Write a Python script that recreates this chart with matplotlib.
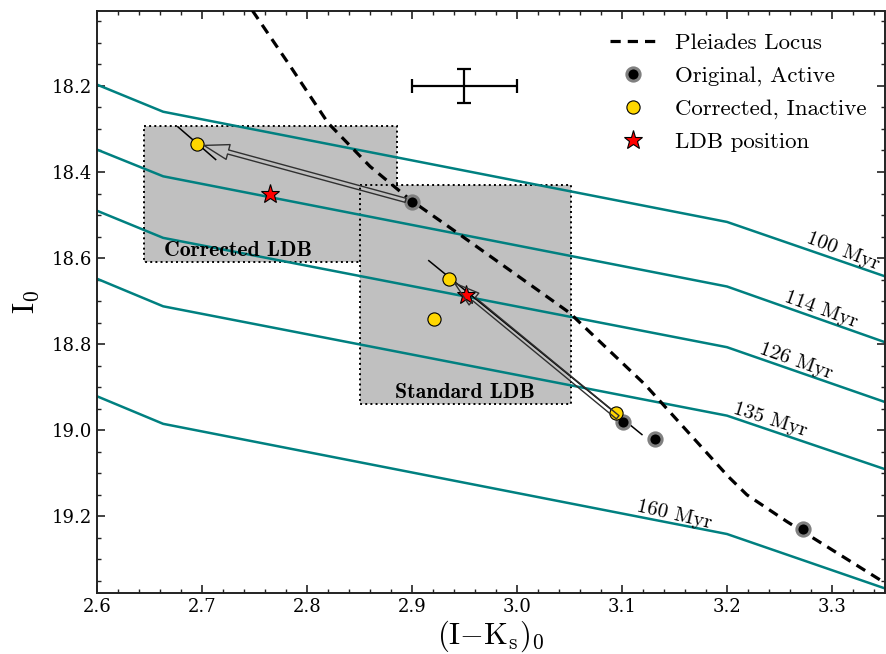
import matplotlib
matplotlib.use("Agg")
import matplotlib.pyplot as plt
from matplotlib.patches import Rectangle, FancyArrowPatch
from matplotlib.ticker import MultipleLocator
import numpy as np

plt.rcParams['font.family'] = 'DejaVu Serif'
plt.rcParams['mathtext.fontset'] = 'cm'

# ---------------- data ----------------
iso_x = [2.6, 2.663, 3.2, 3.35]
iso_100 = [18.197, 18.260, 18.516, 18.642]
iso_114 = [18.348, 18.410, 18.666, 18.795]
iso_126 = [18.490, 18.553, 18.807, 18.934]
iso_135 = [18.648, 18.712, 18.966, 19.090]
iso_160 = [18.921, 18.985, 19.241, 19.367]
iso_labels = ["100 Myr", "114 Myr", "126 Myr", "135 Myr", "160 Myr"]
iso_label_x = [3.310, 3.290, 3.266, 3.241, 3.150]
iso_label_y = [18.585, 18.720, 18.840, 18.977, 19.197]
iso_label_rot = [-21, -20, -19.5, -17.5, -13]

pl_x = [2.748, 2.784, 2.820, 2.860, 2.898, 2.943, 3.019, 3.050, 3.122,
        3.201, 3.219, 3.257, 3.352]
pl_y = [18.025, 18.154, 18.286, 18.387, 18.464, 18.541, 18.673, 18.727,
        18.894, 19.107, 19.150, 19.212, 19.357]

orig_x = [2.9003, 3.101, 3.131, 3.272]
orig_y = [18.470, 18.980, 19.020, 19.229]
corr_x = [2.6955, 2.9355, 2.9213, 3.094]
corr_y = [18.334, 18.648, 18.741, 18.959]
ldb_x = [2.765, 2.951]
ldb_y = [18.451, 18.685]

arrow_from_x = [2.9003, 3.101]
arrow_from_y = [18.470, 18.980]
arrow_to_x = [2.6955, 2.9355]
arrow_to_y = [18.334, 18.648]

seg1_x = [2.677, 2.713]
seg1_y = [18.295, 18.371]
seg2_x = [2.916, 3.119]
seg2_y = [18.606, 19.010]

box_corr = [2.645, 2.886, 18.294, 18.608]
box_std = [2.8505, 3.051, 18.431, 18.939]

err_x, err_y = 2.95, 18.2
err_dx, err_dy = 0.05, 0.04

# ---------------- figure ----------------
fig = plt.figure(figsize=(8.86, 6.54), dpi=100)
ax = fig.add_axes([97/886, 61/654, 787.5/886, 582/654])

for (x0, x1, y0, y1) in [box_corr, box_std]:
    ax.add_patch(Rectangle((x0, y0), x1 - x0, y1 - y0, facecolor='#c0c0c0',
                           edgecolor='black', linestyle=':', linewidth=1.4,
                           zorder=1))

teal = '#008080'
for ys in [iso_100, iso_114, iso_126, iso_135, iso_160]:
    ax.plot(iso_x, ys, color=teal, lw=1.8, zorder=2)
for t, x, y, r in zip(iso_labels, iso_label_x, iso_label_y, iso_label_rot):
    ax.text(x, y, t, fontsize=15, family='cmr10', rotation=r,
            rotation_mode='anchor', ha='center', va='center', zorder=3)

ax.plot(pl_x, pl_y, color='black', lw=2.3, linestyle=(0, (3.2, 2.2)),
        zorder=3, label='Pleiades Locus')

ax.text(2.664, 18.582, 'Corrected LDB', family='cmb10', fontsize=15.7,
        ha='left', va='center', zorder=3)
ax.text(2.884, 18.913, 'Standard LDB', family='cmb10', fontsize=15.7,
        ha='left', va='center', zorder=3)

ax.plot(seg1_x, seg1_y, color='black', lw=1.1, zorder=4)
ax.plot(seg2_x, seg2_y, color='black', lw=1.1, zorder=4)

ax.errorbar([err_x], [err_y], xerr=[err_dx], yerr=[err_dy], fmt='none',
            ecolor='black', elinewidth=1.6, capsize=5, capthick=1.6, zorder=4)

ax.plot(orig_x, orig_y, 'o', color='black', markersize=9.5, mec='#808080',
        mew=2.2, linestyle='none', zorder=5, label='Original, Active')
ax.plot(corr_x, corr_y, 'o', color='#FFD700', markersize=9.5, mec='black',
        mew=0.8, linestyle='none', zorder=5, label='Corrected, Inactive')
ax.plot(ldb_x, ldb_y, '*', color='red', markersize=14, mec='black',
        mew=0.8, linestyle='none', zorder=5, label='LDB position')

for xa, ya, xb, yb in zip(arrow_from_x, arrow_from_y, arrow_to_x, arrow_to_y):
    arr = FancyArrowPatch((xa, ya), (xb, yb),
                          arrowstyle='simple,head_length=0.9,head_width=0.55,tail_width=0.15',
                          mutation_scale=20, facecolor='none', edgecolor='#303030',
                          linewidth=1.0, shrinkA=5, shrinkB=5, zorder=6)
    ax.add_patch(arr)

ax.set_xlim(2.6, 3.35)
ax.set_ylim(19.378, 18.026)
ax.xaxis.set_major_locator(MultipleLocator(0.1))
ax.xaxis.set_minor_locator(MultipleLocator(0.02))
ax.yaxis.set_major_locator(MultipleLocator(0.2))
ax.yaxis.set_minor_locator(MultipleLocator(0.05))
ax.tick_params(which='both', direction='in', top=True, right=True,
               labelsize=13, color='#222222')
ax.tick_params(which='major', length=6, width=1.2)
ax.tick_params(which='minor', length=3, width=1.0)
for s in ax.spines.values():
    s.set_linewidth(1.4)
    s.set_color('#222222')

ax.set_xlabel(r'$(\mathrm{I}{-}\mathrm{K}_\mathrm{s})_0$', fontsize=22, labelpad=2)
ax.set_ylabel(r'$\mathrm{I}_0$', fontsize=22, labelpad=8)

leg = ax.legend(loc='upper right', bbox_to_anchor=(1.005, 1.0), frameon=False,
                prop={'family': 'cmr10', 'size': 16.5},
                handlelength=2.05, handletextpad=0.8, labelspacing=0.56,
                borderaxespad=0.65, borderpad=0.3, numpoints=1)

fig.savefig('out.png', dpi=100)
